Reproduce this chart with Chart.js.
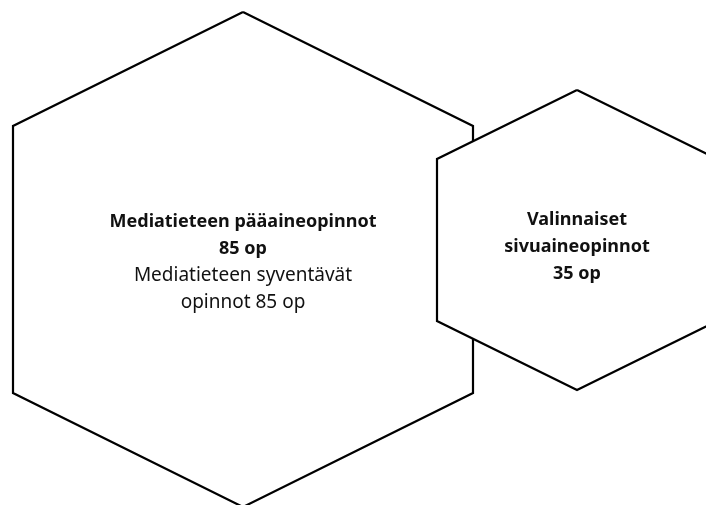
<!DOCTYPE html>
<html>
<head>
<meta charset="utf-8">
<script src="https://cdn.jsdelivr.net/npm/chart.js@4/dist/chart.umd.min.js"></script>
<style>
  html, body { margin: 0; padding: 0; background: #fff; }
  #wrap { width: 706px; height: 505px; }
</style>
</head>
<body>
<div id="wrap"><canvas id="myChart"></canvas></div>
<script>
// hexagons: centre, half width, vertical radius
const hexNames = ['Mediatieteen pääaineopinnot', 'Valinnaiset sivuaineopinnot']
const hexCenterX = [243, 577]
const hexCenterY = [259.5, 240]
const hexHalfWidth = [230, 140]
const hexRadius = [247.5, 150]
const hexShoulder = [133.5, 81]

// text inside each hexagon
const labelLines = [
    ['Mediatieteen pääaineopinnot', '85 op', 'Mediatieteen syventävät', 'opinnot 85 op'],
    ['Valinnaiset', 'sivuaineopinnot', '35 op']
]
const labelBold = [
    [true, true, false, false],
    [true, true, true]
]
const labelTop = [222, 220]
const lineGap = 27

function hexPoints(i) {
    const cx = hexCenterX[i], cy = hexCenterY[i]
    const w = hexHalfWidth[i], r = hexRadius[i], s = hexShoulder[i]
    return [
        { x: cx, y: cy - r },
        { x: cx + w, y: cy - s },
        { x: cx + w, y: cy + s },
        { x: cx, y: cy + r },
        { x: cx - w, y: cy + s },
        { x: cx - w, y: cy - s },
        { x: cx, y: cy - r }
    ]
}

const labelPlugin = {
    id: 'hexLabels',
    afterDatasetsDraw(chart) {
        const ctx = chart.ctx
        const xs = chart.scales.x
        const ys = chart.scales.y
        ctx.save()
        ctx.fillStyle = '#111'
        ctx.textAlign = 'center'
        ctx.textBaseline = 'middle'
        for (let i = 0; i < labelLines.length; i++) {
            for (let j = 0; j < labelLines[i].length; j++) {
                ctx.font = labelBold[i][j] ? 'bold 18px "Noto Sans"' : '19px "Noto Sans"'
                ctx.fillText(labelLines[i][j], xs.getPixelForValue(hexCenterX[i]), ys.getPixelForValue(labelTop[i] + j * lineGap))
            }
        }
        ctx.restore()
    }
}

const cfg = {
    type: 'scatter',
    data: {
        datasets: hexNames.map((name, i) => ({
            label: name,
            data: hexPoints(i),
            showLine: true,
            fill: 'shape',
            backgroundColor: '#fff',
            borderColor: '#000',
            borderWidth: 2.2,
            borderJoinStyle: 'miter',
            pointRadius: 0,
            tension: 0,
            order: hexNames.length - i
        }))
    },
    options: {
        animation: false,
        maintainAspectRatio: false,
        responsive: true,
        layout: { padding: 0 },
        scales: {
            x: { type: 'linear', min: 0, max: 706, display: false },
            y: { type: 'linear', min: 0, max: 505, reverse: true, display: false }
        },
        plugins: {
            legend: { display: false },
            tooltip: { enabled: false }
        }
    },
    plugins: [labelPlugin]
}

const ctx = document.getElementById('myChart').getContext('2d')
const myChart = new Chart(ctx, cfg)
</script>
</body>
</html>
